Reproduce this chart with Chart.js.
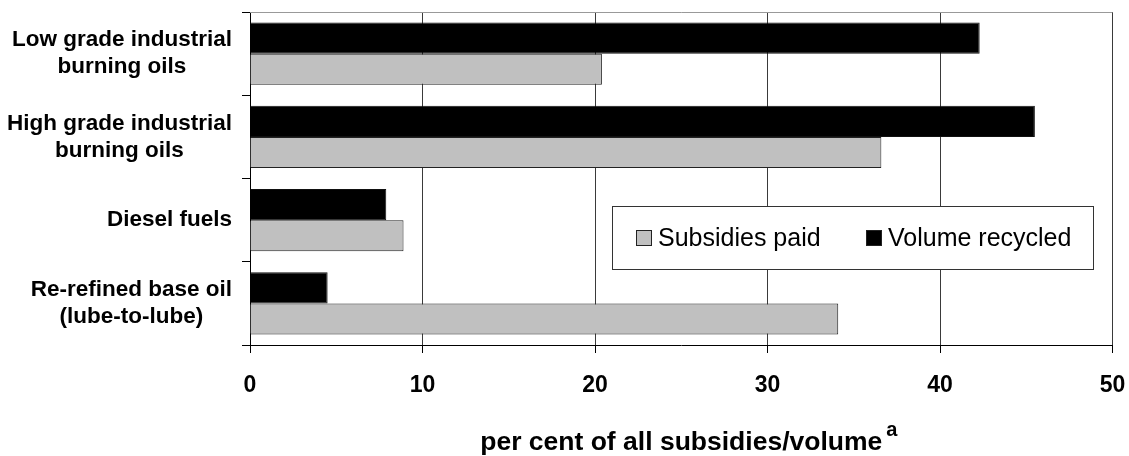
<!DOCTYPE html>
<html>
<head>
<meta charset="utf-8">
<style>
  html, body { margin: 0; padding: 0; background: #fff; }
  #wrap { width: 1129px; height: 456px; }
</style>
<script src="https://cdn.jsdelivr.net/npm/chart.js@4/dist/chart.umd.min.js"></script>
</head>
<body>
<div id="wrap"><canvas id="chart" width="1129" height="456"></canvas></div>
<script>
// Oil product categories (each label split into display lines)
const categories = [
  ['Low grade industrial', 'burning oils'],
  ['High grade industrial', 'burning oils'],
  ['Diesel fuels'],
  ['Re-refined base oil', '(lube-to-lube)']
];

// Share of all subsidies / volume, per cent
const volumeRecycled = [42.3, 45.5, 7.9, 4.5];
const subsidiesPaid  = [20.4, 36.6, 8.9, 34.1];

// Value axis ticks
const xTicks = [0, 10, 20, 30, 40, 50];

const seriesNames = ['Subsidies paid', 'Volume recycled'];
const axisTitle = 'per cent of all subsidies/volume';
const axisTitleNote = 'a';

const FONT = "'Liberation Sans', Arial, Helvetica, sans-serif";
const TITLE_SIZE = 26.5;
const GREY = '#c0c0c0';
const BLACK = '#000000';

// Multi-line category labels: each block right-aligned, lines centred within it
const categoryLabels = {
  id: 'categoryLabels',
  afterDraw(chart) {
    const { ctx, scales: { y }, chartArea } = chart;
    ctx.save();
    ctx.font = 'bold 22.5px ' + FONT;
    ctx.fillStyle = '#000';
    ctx.textAlign = 'center';
    ctx.textBaseline = 'middle';
    const rightEdge = chartArea.left - 18;
    const lh = 27;
    categories.forEach((lines, i) => {
      const yc = y.getPixelForTick(i);
      const w = Math.max(...lines.map(l => ctx.measureText(l).width));
      const cx = rightEdge - w / 2;
      lines.forEach((l, j) => {
        ctx.fillText(l, cx, yc + (j - (lines.length - 1) / 2) * lh);
      });
    });
    ctx.restore();
  }
};

// Plot frame top edge, superscript note on the axis title, and boxed legend
const frameAndLegend = {
  id: 'frameAndLegend',
  afterDraw(chart) {
    const { ctx, chartArea: a, scales: { x } } = chart;
    ctx.save();
    // top frame line
    ctx.strokeStyle = '#999';
    ctx.lineWidth = 1;
    ctx.beginPath();
    ctx.moveTo(a.left, a.top + 0.5);
    ctx.lineTo(a.right, a.top + 0.5);
    ctx.stroke();

    // superscript after the axis title
    ctx.font = 'bold ' + TITLE_SIZE + 'px ' + FONT;
    const tw = ctx.measureText(axisTitle).width;
    const cx = (x.left + x.right) / 2;
    ctx.font = 'bold 20px ' + FONT;
    ctx.fillStyle = '#000';
    ctx.textAlign = 'left';
    ctx.textBaseline = 'alphabetic';
    ctx.fillText(axisTitleNote, cx + tw / 2 + 4, 436);

    // legend box
    const box = { x: 612.5, y: 206.5, w: 481, h: 63 };
    ctx.fillStyle = '#fff';
    ctx.fillRect(box.x, box.y, box.w, box.h);
    ctx.strokeStyle = '#333';
    ctx.lineWidth = 1;
    ctx.strokeRect(box.x, box.y, box.w, box.h);

    const items = [
      { text: seriesNames[0], color: GREY, sx: 636 },
      { text: seriesNames[1], color: BLACK, sx: 866 }
    ];
    const cy = box.y + box.h / 2;
    ctx.font = '25px ' + FONT;
    ctx.textBaseline = 'middle';
    items.forEach(it => {
      ctx.fillStyle = it.color;
      ctx.fillRect(it.sx + 0.5, cy - 7.5, 15, 15);
      ctx.strokeStyle = '#222';
      ctx.strokeRect(it.sx + 0.5, cy - 7.5, 15, 15);
      ctx.fillStyle = '#000';
      ctx.fillText(it.text, it.sx + 22, cy + 1);
    });
    ctx.restore();
  }
};

new Chart(document.getElementById('chart'), {
  type: 'bar',
  data: {
    labels: categories,
    datasets: [
      {
        label: seriesNames[1],
        data: volumeRecycled,
        backgroundColor: BLACK,
        borderColor: '#111',
        borderWidth: 1
      },
      {
        label: seriesNames[0],
        data: subsidiesPaid,
        backgroundColor: GREY,
        borderColor: '#222',
        borderWidth: 1
      }
    ]
  },
  options: {
    indexAxis: 'y',
    responsive: false,
    animation: false,
    devicePixelRatio: 1,
    layout: { padding: { top: 12, right: 16.5, bottom: 0, left: 0 } },
    datasets: { bar: { categoryPercentage: 0.75, barPercentage: 1.0 } },
    plugins: {
      legend: { display: false },
      tooltip: { enabled: false }
    },
    scales: {
      x: {
        type: 'linear',
        min: xTicks[0],
        max: xTicks[xTicks.length - 1],
        afterBuildTicks(scale) { scale.ticks = xTicks.map(v => ({ value: v })); },
        afterFit(scale) {
          scale.height = 111;
          scale.paddingLeft = 0;
          scale.paddingRight = 0;
        },
        grid: {
          color: '#3a3a3a',
          lineWidth: 1,
          drawTicks: true,
          tickLength: 8,
          tickColor: '#000'
        },
        border: { display: true, color: '#000', width: 1 },
        ticks: {
          color: '#000',
          font: { family: FONT, size: 23, weight: 'bold' },
          padding: 19,
          maxRotation: 0
        },
        title: {
          display: true,
          text: axisTitle,
          color: '#000',
          font: { family: FONT, size: TITLE_SIZE, weight: 'bold', lineHeight: 1.0 },
          padding: { top: 0, bottom: 0 }
        }
      },
      y: {
        type: 'category',
        afterFit(scale) { scale.width = 250; },
        grid: {
          offset: true,
          drawOnChartArea: false,
          drawTicks: true,
          tickLength: 8,
          tickColor: '#000'
        },
        border: { display: true, color: '#000', width: 1 },
        ticks: { display: false }
      }
    }
  },
  plugins: [categoryLabels, frameAndLegend]
});
</script>
</body>
</html>
